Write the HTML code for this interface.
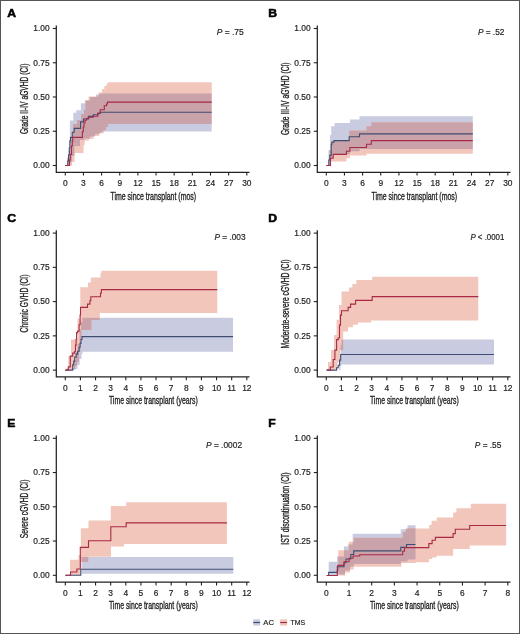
<!DOCTYPE html><html><head><meta charset="utf-8"><style>html,body{margin:0;padding:0;background:#fff;} text{stroke:#222;stroke-width:0.18px;}svg{display:block;will-change:transform;}</style></head><body>
<svg width="520" height="634" viewBox="0 0 520 634" font-family='"Liberation Sans", sans-serif' fill="#222">
<rect x="0" y="0" width="520" height="634" fill="#fff"/>
<g transform="translate(0 0)">
<clipPath id="ca"><path d="M67.3 158 L68.5 158 L68.5 150 L69.2 150 L69.2 140 L69.9 140 L69.9 120.4 L73.3 120.4 L73.3 112.8 L76.2 112.8 L76.2 110.3 L80.9 110.3 L80.9 103.3 L85.3 103.3 L85.3 100.5 L90 100.5 L90 97 L96 97 L96 94.5 L100 94.5 L100 93.6 L211.7 93.6 L211.7 131.5 L102 131.5 L102 132.5 L100 132.5 L100 134 L95 134 L95 136.5 L90 136.5 L90 138.5 L84 138.5 L84 140 L80 140 L80 146 L74.5 146 L74.5 156 L72 156 L72 162 L70 162 L70 165.5 L67.3 165.5Z"/></clipPath>
<path d="M67.3 158 L68.5 158 L68.5 150 L69.2 150 L69.2 140 L69.9 140 L69.9 120.4 L73.3 120.4 L73.3 112.8 L76.2 112.8 L76.2 110.3 L80.9 110.3 L80.9 103.3 L85.3 103.3 L85.3 100.5 L90 100.5 L90 97 L96 97 L96 94.5 L100 94.5 L100 93.6 L211.7 93.6 L211.7 131.5 L102 131.5 L102 132.5 L100 132.5 L100 134 L95 134 L95 136.5 L90 136.5 L90 138.5 L84 138.5 L84 140 L80 140 L80 146 L74.5 146 L74.5 156 L72 156 L72 162 L70 162 L70 165.5 L67.3 165.5Z" fill="#c9cce0"/>
<path d="M67.5 158 L69.5 158 L69.5 150 L70.5 150 L70.5 137 L73 137 L73 124 L77 124 L77 120 L81 120 L81 114 L84 114 L84 110 L85.3 110 L85.3 100.2 L88.5 100.2 L88.5 96.4 L98.5 96.4 L98.5 92.5 L102 92.5 L102 88.9 L104.4 88.9 L104.4 86 L106.5 86 L106.5 83.8 L108 83.8 L108 82.2 L211.7 82.2 L211.7 124 L108 124 L108 127 L106 127 L106 130.3 L103.6 130.3 L103.6 133.2 L99.2 133.2 L99.2 136.1 L93.4 136.1 L93.4 139 L89 139 L89 140.5 L84.7 140.5 L84.7 145 L83.5 145 L83.5 153 L74.5 153 L74.5 162 L72 162 L72 165.5 L67.5 165.5Z" fill="#f2c6bb"/>
<path d="M67.5 158 L69.5 158 L69.5 150 L70.5 150 L70.5 137 L73 137 L73 124 L77 124 L77 120 L81 120 L81 114 L84 114 L84 110 L85.3 110 L85.3 100.2 L88.5 100.2 L88.5 96.4 L98.5 96.4 L98.5 92.5 L102 92.5 L102 88.9 L104.4 88.9 L104.4 86 L106.5 86 L106.5 83.8 L108 83.8 L108 82.2 L211.7 82.2 L211.7 124 L108 124 L108 127 L106 127 L106 130.3 L103.6 130.3 L103.6 133.2 L99.2 133.2 L99.2 136.1 L93.4 136.1 L93.4 139 L89 139 L89 140.5 L84.7 140.5 L84.7 145 L83.5 145 L83.5 153 L74.5 153 L74.5 162 L72 162 L72 165.5 L67.5 165.5Z" fill="#c9a2aa" clip-path="url(#ca)"/>
<path d="M65.3 165.5 L67.8 165.5 L67.8 161 L68.5 161 L68.5 155 L69.3 155 L69.3 148 L69.9 148 L69.9 141 L70.5 141 L70.5 137.4 L72.3 137.4 L72.3 132.2 L74.2 132.2 L74.2 128.4 L80.6 128.4 L80.6 121.9 L83.5 121.9 L83.5 119 L88.7 119 L88.7 116.4 L93.3 116.4 L93.3 114.8 L97.9 114.8 L97.9 113.5 L100.2 113.5 L100.2 112.3 L211.7 112.3" fill="none" stroke="#3f4d72" stroke-width="1.1"/>
<path d="M65.3 165.5 L69.6 165.5 L69.6 160 L70.3 160 L70.3 154.5 L71.5 154.5 L71.5 146 L72.3 146 L72.3 141 L72.8 141 L72.8 137.4 L82.4 137.4 L82.4 131.8 L83.3 131.8 L83.3 127 L84 127 L84 123 L85 123 L85 120.2 L86.5 120.2 L86.5 118.5 L88 118.5 L88 117.3 L93.3 117.3 L93.3 116.2 L97.9 116.2 L97.9 113 L100.2 113 L100.2 109.8 L104.3 109.8 L104.3 105.8 L106.5 105.8 L106.5 104 L107.4 104 L107.4 102.1 L211.7 102.1" fill="none" stroke="#a82a45" stroke-width="1.1"/>
<path d="M56.3 25.6 V172.9 M55.7 172.3 H249.5" fill="none" stroke="#222" stroke-width="1.25"/>
<path d="M52.8 165.5 H56.3" stroke="#222" stroke-width="1.1"/>
<text x="49.6" y="168.25" text-anchor="end" font-size="8.4">0.00</text>
<path d="M52.8 131.25 H56.3" stroke="#222" stroke-width="1.1"/>
<text x="49.6" y="134" text-anchor="end" font-size="8.4">0.25</text>
<path d="M52.8 97 H56.3" stroke="#222" stroke-width="1.1"/>
<text x="49.6" y="99.75" text-anchor="end" font-size="8.4">0.50</text>
<path d="M52.8 62.75 H56.3" stroke="#222" stroke-width="1.1"/>
<text x="49.6" y="65.5" text-anchor="end" font-size="8.4">0.75</text>
<path d="M52.8 28.5 H56.3" stroke="#222" stroke-width="1.1"/>
<text x="49.6" y="31.25" text-anchor="end" font-size="8.4">1.00</text>
<path d="M65.3 172.3 V175.6" stroke="#222" stroke-width="1.1"/>
<text x="65.3" y="186.2" text-anchor="middle" font-size="8.4">0</text>
<path d="M83.45 172.3 V175.6" stroke="#222" stroke-width="1.1"/>
<text x="83.45" y="186.2" text-anchor="middle" font-size="8.4">3</text>
<path d="M101.6 172.3 V175.6" stroke="#222" stroke-width="1.1"/>
<text x="101.6" y="186.2" text-anchor="middle" font-size="8.4">6</text>
<path d="M119.75 172.3 V175.6" stroke="#222" stroke-width="1.1"/>
<text x="119.75" y="186.2" text-anchor="middle" font-size="8.4">9</text>
<path d="M137.9 172.3 V175.6" stroke="#222" stroke-width="1.1"/>
<text x="137.9" y="186.2" text-anchor="middle" font-size="8.4">12</text>
<path d="M156.05 172.3 V175.6" stroke="#222" stroke-width="1.1"/>
<text x="156.05" y="186.2" text-anchor="middle" font-size="8.4">15</text>
<path d="M174.2 172.3 V175.6" stroke="#222" stroke-width="1.1"/>
<text x="174.2" y="186.2" text-anchor="middle" font-size="8.4">18</text>
<path d="M192.35 172.3 V175.6" stroke="#222" stroke-width="1.1"/>
<text x="192.35" y="186.2" text-anchor="middle" font-size="8.4">21</text>
<path d="M210.5 172.3 V175.6" stroke="#222" stroke-width="1.1"/>
<text x="210.5" y="186.2" text-anchor="middle" font-size="8.4">24</text>
<path d="M228.65 172.3 V175.6" stroke="#222" stroke-width="1.1"/>
<text x="228.65" y="186.2" text-anchor="middle" font-size="8.4">27</text>
<path d="M246.8 172.3 V175.6" stroke="#222" stroke-width="1.1"/>
<text x="246.8" y="186.2" text-anchor="middle" font-size="8.4">30</text>
<text x="153.3" y="199.6" text-anchor="middle" font-size="10" style="stroke-width:0.32px" textLength="85.7" lengthAdjust="spacingAndGlyphs">Time since transplant (mos)</text>
<text transform="translate(28.4 98.85) rotate(-90)" text-anchor="middle" font-size="10" style="stroke-width:0.32px" textLength="70.5" lengthAdjust="spacingAndGlyphs">Grade II-IV aGVHD (CI)</text>
<text x="216.7" y="35.3" font-size="8.5" textLength="27.1" lengthAdjust="spacingAndGlyphs"><tspan font-style="italic">P</tspan> = .75</text>
<text transform="translate(7.2 16.9) scale(1.06 1)" font-size="11.5" font-weight="bold" style="stroke-width:0.55px;stroke:#000;fill:#000">A</text>
</g>
<g transform="translate(261 0)">
<clipPath id="cb"><path d="M67.5 150 L69 150 L69 135 L70.2 135 L70.2 126.3 L73.6 126.3 L73.6 122.9 L88.9 122.9 L88.9 119.4 L98.5 119.4 L98.5 116.2 L211.8 116.2 L211.8 148.9 L98.5 148.9 L98.5 151.2 L88.9 151.2 L88.9 154 L72 154 L72 158 L70 158 L70 165.5 L67.5 165.5Z"/></clipPath>
<path d="M67.5 150 L69 150 L69 135 L70.2 135 L70.2 126.3 L73.6 126.3 L73.6 122.9 L88.9 122.9 L88.9 119.4 L98.5 119.4 L98.5 116.2 L211.8 116.2 L211.8 148.9 L98.5 148.9 L98.5 151.2 L88.9 151.2 L88.9 154 L72 154 L72 158 L70 158 L70 165.5 L67.5 165.5Z" fill="#c9cce0"/>
<path d="M68.5 150 L70 150 L70 141 L88.2 141 L88.2 130.5 L105.5 130.5 L105.5 126.3 L110.3 126.3 L110.3 122.3 L211.8 122.3 L211.8 153.8 L105.5 153.8 L105.5 155.4 L88.9 155.4 L88.9 158.2 L85.4 158.2 L85.4 161.6 L70 161.6 L70 165.5 L68.5 165.5Z" fill="#f2c6bb"/>
<path d="M68.5 150 L70 150 L70 141 L88.2 141 L88.2 130.5 L105.5 130.5 L105.5 126.3 L110.3 126.3 L110.3 122.3 L211.8 122.3 L211.8 153.8 L105.5 153.8 L105.5 155.4 L88.9 155.4 L88.9 158.2 L85.4 158.2 L85.4 161.6 L70 161.6 L70 165.5 L68.5 165.5Z" fill="#c9a2aa" clip-path="url(#cb)"/>
<path d="M65.3 165.5 L67.8 165.5 L67.8 160 L68.8 160 L68.8 155.4 L70.2 155.4 L70.2 144.3 L70.9 144.3 L70.9 142.2 L72.9 142.2 L72.9 140.6 L88.2 140.6 L88.2 136.7 L98.5 136.7 L98.5 133.9 L211.8 133.9" fill="none" stroke="#3f4d72" stroke-width="1.1"/>
<path d="M65.3 165.5 L69.5 165.5 L69.5 158.2 L72.2 158.2 L72.2 154.4 L85.4 154.4 L85.4 151.2 L88.9 151.2 L88.9 147.5 L105.5 147.5 L105.5 144.3 L110.3 144.3 L110.3 140.6 L211.8 140.6" fill="none" stroke="#a82a45" stroke-width="1.1"/>
<path d="M56.3 25.6 V172.9 M55.7 172.3 H249.5" fill="none" stroke="#222" stroke-width="1.25"/>
<path d="M52.8 165.5 H56.3" stroke="#222" stroke-width="1.1"/>
<text x="49.6" y="168.25" text-anchor="end" font-size="8.4">0.00</text>
<path d="M52.8 131.25 H56.3" stroke="#222" stroke-width="1.1"/>
<text x="49.6" y="134" text-anchor="end" font-size="8.4">0.25</text>
<path d="M52.8 97 H56.3" stroke="#222" stroke-width="1.1"/>
<text x="49.6" y="99.75" text-anchor="end" font-size="8.4">0.50</text>
<path d="M52.8 62.75 H56.3" stroke="#222" stroke-width="1.1"/>
<text x="49.6" y="65.5" text-anchor="end" font-size="8.4">0.75</text>
<path d="M52.8 28.5 H56.3" stroke="#222" stroke-width="1.1"/>
<text x="49.6" y="31.25" text-anchor="end" font-size="8.4">1.00</text>
<path d="M65.3 172.3 V175.6" stroke="#222" stroke-width="1.1"/>
<text x="65.3" y="186.2" text-anchor="middle" font-size="8.4">0</text>
<path d="M83.45 172.3 V175.6" stroke="#222" stroke-width="1.1"/>
<text x="83.45" y="186.2" text-anchor="middle" font-size="8.4">3</text>
<path d="M101.6 172.3 V175.6" stroke="#222" stroke-width="1.1"/>
<text x="101.6" y="186.2" text-anchor="middle" font-size="8.4">6</text>
<path d="M119.75 172.3 V175.6" stroke="#222" stroke-width="1.1"/>
<text x="119.75" y="186.2" text-anchor="middle" font-size="8.4">9</text>
<path d="M137.9 172.3 V175.6" stroke="#222" stroke-width="1.1"/>
<text x="137.9" y="186.2" text-anchor="middle" font-size="8.4">12</text>
<path d="M156.05 172.3 V175.6" stroke="#222" stroke-width="1.1"/>
<text x="156.05" y="186.2" text-anchor="middle" font-size="8.4">15</text>
<path d="M174.2 172.3 V175.6" stroke="#222" stroke-width="1.1"/>
<text x="174.2" y="186.2" text-anchor="middle" font-size="8.4">18</text>
<path d="M192.35 172.3 V175.6" stroke="#222" stroke-width="1.1"/>
<text x="192.35" y="186.2" text-anchor="middle" font-size="8.4">21</text>
<path d="M210.5 172.3 V175.6" stroke="#222" stroke-width="1.1"/>
<text x="210.5" y="186.2" text-anchor="middle" font-size="8.4">24</text>
<path d="M228.65 172.3 V175.6" stroke="#222" stroke-width="1.1"/>
<text x="228.65" y="186.2" text-anchor="middle" font-size="8.4">27</text>
<path d="M246.8 172.3 V175.6" stroke="#222" stroke-width="1.1"/>
<text x="246.8" y="186.2" text-anchor="middle" font-size="8.4">30</text>
<text x="153.3" y="199.6" text-anchor="middle" font-size="10" style="stroke-width:0.32px" textLength="85.7" lengthAdjust="spacingAndGlyphs">Time since transplant (mos)</text>
<text transform="translate(28.4 98.75) rotate(-90)" text-anchor="middle" font-size="10" style="stroke-width:0.32px" textLength="72.7" lengthAdjust="spacingAndGlyphs">Grade III-IV aGVHD (CI)</text>
<text x="216.9" y="35.3" font-size="8.5" textLength="26.5" lengthAdjust="spacingAndGlyphs"><tspan font-style="italic">P</tspan> = .52</text>
<text transform="translate(7.2 16.9) scale(1.06 1)" font-size="11.5" font-weight="bold" style="stroke-width:0.55px;stroke:#000;fill:#000">B</text>
</g>
<g transform="translate(0 204.6)">
<clipPath id="cc"><path d="M72 163.5 L74 163.5 L74 155.5 L76 155.5 L76 147.5 L77.6 147.5 L77.6 139.5 L79.6 139.5 L79.6 125.1 L81 125.1 L81 117.5 L82.5 117.5 L82.5 113.2 L233 113.2 L233 147.1 L82.5 147.1 L82.5 149.5 L81.5 149.5 L81.5 154.5 L79.6 154.5 L79.6 160.5 L77.5 160.5 L77.5 164.5 L75.7 164.5 L75.7 165.5 L72 165.5Z"/></clipPath>
<path d="M72 163.5 L74 163.5 L74 155.5 L76 155.5 L76 147.5 L77.6 147.5 L77.6 139.5 L79.6 139.5 L79.6 125.1 L81 125.1 L81 117.5 L82.5 117.5 L82.5 113.2 L233 113.2 L233 147.1 L82.5 147.1 L82.5 149.5 L81.5 149.5 L81.5 154.5 L79.6 154.5 L79.6 160.5 L77.5 160.5 L77.5 164.5 L75.7 164.5 L75.7 165.5 L72 165.5Z" fill="#c9cce0"/>
<path d="M66.5 163.5 L68.3 163.5 L68.3 151.5 L71 151.5 L71 135 L77.5 135 L77.5 114.2 L80.3 114.2 L80.3 82.6 L88 82.6 L88 77.8 L90.8 77.8 L90.8 73 L100.5 73 L100.5 68.5 L101.4 68.5 L101.4 66.1 L217.3 66.1 L217.3 108.4 L99.8 108.4 L99.8 115.5 L91.5 115.5 L91.5 125.5 L81.5 125.5 L81.5 135.5 L80.5 135.5 L80.5 147.5 L79 147.5 L79 157.5 L77 157.5 L77 161.5 L75 161.5 L75 164.5 L72 164.5 L72 165.5 L67 165.5Z" fill="#f2c6bb"/>
<path d="M66.5 163.5 L68.3 163.5 L68.3 151.5 L71 151.5 L71 135 L77.5 135 L77.5 114.2 L80.3 114.2 L80.3 82.6 L88 82.6 L88 77.8 L90.8 77.8 L90.8 73 L100.5 73 L100.5 68.5 L101.4 68.5 L101.4 66.1 L217.3 66.1 L217.3 108.4 L99.8 108.4 L99.8 115.5 L91.5 115.5 L91.5 125.5 L81.5 125.5 L81.5 135.5 L80.5 135.5 L80.5 147.5 L79 147.5 L79 157.5 L77 157.5 L77 161.5 L75 161.5 L75 164.5 L72 164.5 L72 165.5 L67 165.5Z" fill="#c9a2aa" clip-path="url(#cc)"/>
<path d="M65.3 165.5 L72.7 165.5 L72.7 160.3 L73.7 160.3 L73.7 156.5 L74.7 156.5 L74.7 152.5 L76.1 152.5 L76.1 149.5 L77.6 149.5 L77.6 146.6 L79.1 146.6 L79.1 142.7 L80.1 142.7 L80.1 138.8 L81 138.8 L81 134.9 L82 134.9 L82 132 L233 132" fill="none" stroke="#3f4d72" stroke-width="1.1"/>
<path d="M65.3 165.5 L68.3 165.5 L68.3 162.3 L70.3 162.3 L70.3 151.5 L72.7 151.5 L72.7 148.5 L74.7 148.5 L74.7 146.6 L75.5 146.6 L75.5 140.5 L76.1 140.5 L76.1 134.9 L76.6 134.9 L76.6 128 L77.6 128 L77.6 126.5 L79.1 126.5 L79.1 120.2 L80.1 120.2 L80.1 110.4 L80.5 110.4 L80.5 102.8 L87.5 102.8 L87.5 99.5 L89.9 99.5 L89.9 96.1 L90.8 96.1 L90.8 92.2 L100.5 92.2 L100.5 88.4 L101.4 88.4 L101.4 85 L217.3 85" fill="none" stroke="#a82a45" stroke-width="1.1"/>
<path d="M56.3 25.6 V172.9 M55.7 172.3 H249.5" fill="none" stroke="#222" stroke-width="1.25"/>
<path d="M52.8 165.5 H56.3" stroke="#222" stroke-width="1.1"/>
<text x="49.6" y="168.25" text-anchor="end" font-size="8.4">0.00</text>
<path d="M52.8 131.25 H56.3" stroke="#222" stroke-width="1.1"/>
<text x="49.6" y="134" text-anchor="end" font-size="8.4">0.25</text>
<path d="M52.8 97 H56.3" stroke="#222" stroke-width="1.1"/>
<text x="49.6" y="99.75" text-anchor="end" font-size="8.4">0.50</text>
<path d="M52.8 62.75 H56.3" stroke="#222" stroke-width="1.1"/>
<text x="49.6" y="65.5" text-anchor="end" font-size="8.4">0.75</text>
<path d="M52.8 28.5 H56.3" stroke="#222" stroke-width="1.1"/>
<text x="49.6" y="31.25" text-anchor="end" font-size="8.4">1.00</text>
<path d="M65.3 172.3 V175.6" stroke="#222" stroke-width="1.1"/>
<text x="65.3" y="186.2" text-anchor="middle" font-size="8.4">0</text>
<path d="M80.42 172.3 V175.6" stroke="#222" stroke-width="1.1"/>
<text x="80.42" y="186.2" text-anchor="middle" font-size="8.4">1</text>
<path d="M95.55 172.3 V175.6" stroke="#222" stroke-width="1.1"/>
<text x="95.55" y="186.2" text-anchor="middle" font-size="8.4">2</text>
<path d="M110.67 172.3 V175.6" stroke="#222" stroke-width="1.1"/>
<text x="110.67" y="186.2" text-anchor="middle" font-size="8.4">3</text>
<path d="M125.8 172.3 V175.6" stroke="#222" stroke-width="1.1"/>
<text x="125.8" y="186.2" text-anchor="middle" font-size="8.4">4</text>
<path d="M140.93 172.3 V175.6" stroke="#222" stroke-width="1.1"/>
<text x="140.93" y="186.2" text-anchor="middle" font-size="8.4">5</text>
<path d="M156.05 172.3 V175.6" stroke="#222" stroke-width="1.1"/>
<text x="156.05" y="186.2" text-anchor="middle" font-size="8.4">6</text>
<path d="M171.18 172.3 V175.6" stroke="#222" stroke-width="1.1"/>
<text x="171.18" y="186.2" text-anchor="middle" font-size="8.4">7</text>
<path d="M186.3 172.3 V175.6" stroke="#222" stroke-width="1.1"/>
<text x="186.3" y="186.2" text-anchor="middle" font-size="8.4">8</text>
<path d="M201.43 172.3 V175.6" stroke="#222" stroke-width="1.1"/>
<text x="201.43" y="186.2" text-anchor="middle" font-size="8.4">9</text>
<path d="M216.55 172.3 V175.6" stroke="#222" stroke-width="1.1"/>
<text x="216.55" y="186.2" text-anchor="middle" font-size="8.4">10</text>
<path d="M231.68 172.3 V175.6" stroke="#222" stroke-width="1.1"/>
<text x="231.68" y="186.2" text-anchor="middle" font-size="8.4">11</text>
<path d="M246.8 172.3 V175.6" stroke="#222" stroke-width="1.1"/>
<text x="246.8" y="186.2" text-anchor="middle" font-size="8.4">12</text>
<text x="153.3" y="199.6" text-anchor="middle" font-size="10" style="stroke-width:0.32px" textLength="88.8" lengthAdjust="spacingAndGlyphs">Time since transplant (years)</text>
<text transform="translate(28.4 98.9) rotate(-90)" text-anchor="middle" font-size="10" style="stroke-width:0.32px" textLength="57.8" lengthAdjust="spacingAndGlyphs">Chronic GVHD (CI)</text>
<text x="214.4" y="35.4" font-size="8.5" textLength="31.2" lengthAdjust="spacingAndGlyphs"><tspan font-style="italic">P</tspan> = .003</text>
<text transform="translate(7.2 16.9) scale(1.06 1)" font-size="11.5" font-weight="bold" style="stroke-width:0.55px;stroke:#000;fill:#000">C</text>
</g>
<g transform="translate(261 204.6)">
<clipPath id="cd"><path d="M78 155.5 L79.5 155.5 L79.5 140.5 L80.5 140.5 L80.5 135 L233 135 L233 159.9 L80.5 159.9 L80.5 161.5 L79.5 161.5 L79.5 165.5 L78 165.5Z"/></clipPath>
<path d="M78 155.5 L79.5 155.5 L79.5 140.5 L80.5 140.5 L80.5 135 L233 135 L233 159.9 L80.5 159.9 L80.5 161.5 L79.5 161.5 L79.5 165.5 L78 165.5Z" fill="#c9cce0"/>
<path d="M67 157.5 L70 157.5 L70 145.5 L73 145.5 L73 130.5 L75.6 130.5 L75.6 115.2 L78 115.2 L78 100.5 L80.5 100.5 L80.5 87 L88 87 L88 82.9 L91.3 82.9 L91.3 79.5 L95.4 79.5 L95.4 75.5 L111.2 75.5 L111.2 72.1 L217.3 72.1 L217.3 116 L110.3 116 L110.3 118 L97 118 L97 120.1 L92 120.1 L92 122.6 L87 122.6 L87 126.8 L82.2 126.8 L82.2 145.5 L79 145.5 L79 157.5 L76.5 157.5 L76.5 164.5 L73 164.5 L73 165.5 L67 165.5Z" fill="#f2c6bb"/>
<path d="M67 157.5 L70 157.5 L70 145.5 L73 145.5 L73 130.5 L75.6 130.5 L75.6 115.2 L78 115.2 L78 100.5 L80.5 100.5 L80.5 87 L88 87 L88 82.9 L91.3 82.9 L91.3 79.5 L95.4 79.5 L95.4 75.5 L111.2 75.5 L111.2 72.1 L217.3 72.1 L217.3 116 L110.3 116 L110.3 118 L97 118 L97 120.1 L92 120.1 L92 122.6 L87 122.6 L87 126.8 L82.2 126.8 L82.2 145.5 L79 145.5 L79 157.5 L76.5 157.5 L76.5 164.5 L73 164.5 L73 165.5 L67 165.5Z" fill="#c9a2aa" clip-path="url(#cd)"/>
<path d="M65.6 165.5 L75.6 165.5 L75.6 163.2 L77.2 163.2 L77.2 160.7 L78.6 160.7 L78.6 155.5 L79.7 155.5 L79.7 149.9 L233 149.9" fill="none" stroke="#3f4d72" stroke-width="1.1"/>
<path d="M65.6 165.5 L69.3 165.5 L69.3 162.4 L72.2 162.4 L72.2 154.9 L73.9 154.9 L73.9 145.5 L75.6 145.5 L75.6 135 L77.2 135 L77.2 133.4 L78.5 133.4 L78.5 120.5 L79.5 120.5 L79.5 110.5 L80.5 110.5 L80.5 106.1 L87.1 106.1 L87.1 102.8 L89.6 102.8 L89.6 99.5 L94.6 99.5 L94.6 95.8 L111.2 95.8 L111.2 92 L217.3 92" fill="none" stroke="#a82a45" stroke-width="1.1"/>
<path d="M56.3 25.6 V172.9 M55.7 172.3 H249.5" fill="none" stroke="#222" stroke-width="1.25"/>
<path d="M52.8 165.5 H56.3" stroke="#222" stroke-width="1.1"/>
<text x="49.6" y="168.25" text-anchor="end" font-size="8.4">0.00</text>
<path d="M52.8 131.25 H56.3" stroke="#222" stroke-width="1.1"/>
<text x="49.6" y="134" text-anchor="end" font-size="8.4">0.25</text>
<path d="M52.8 97 H56.3" stroke="#222" stroke-width="1.1"/>
<text x="49.6" y="99.75" text-anchor="end" font-size="8.4">0.50</text>
<path d="M52.8 62.75 H56.3" stroke="#222" stroke-width="1.1"/>
<text x="49.6" y="65.5" text-anchor="end" font-size="8.4">0.75</text>
<path d="M52.8 28.5 H56.3" stroke="#222" stroke-width="1.1"/>
<text x="49.6" y="31.25" text-anchor="end" font-size="8.4">1.00</text>
<path d="M65.3 172.3 V175.6" stroke="#222" stroke-width="1.1"/>
<text x="65.3" y="186.2" text-anchor="middle" font-size="8.4">0</text>
<path d="M80.42 172.3 V175.6" stroke="#222" stroke-width="1.1"/>
<text x="80.42" y="186.2" text-anchor="middle" font-size="8.4">1</text>
<path d="M95.55 172.3 V175.6" stroke="#222" stroke-width="1.1"/>
<text x="95.55" y="186.2" text-anchor="middle" font-size="8.4">2</text>
<path d="M110.67 172.3 V175.6" stroke="#222" stroke-width="1.1"/>
<text x="110.67" y="186.2" text-anchor="middle" font-size="8.4">3</text>
<path d="M125.8 172.3 V175.6" stroke="#222" stroke-width="1.1"/>
<text x="125.8" y="186.2" text-anchor="middle" font-size="8.4">4</text>
<path d="M140.93 172.3 V175.6" stroke="#222" stroke-width="1.1"/>
<text x="140.93" y="186.2" text-anchor="middle" font-size="8.4">5</text>
<path d="M156.05 172.3 V175.6" stroke="#222" stroke-width="1.1"/>
<text x="156.05" y="186.2" text-anchor="middle" font-size="8.4">6</text>
<path d="M171.18 172.3 V175.6" stroke="#222" stroke-width="1.1"/>
<text x="171.18" y="186.2" text-anchor="middle" font-size="8.4">7</text>
<path d="M186.3 172.3 V175.6" stroke="#222" stroke-width="1.1"/>
<text x="186.3" y="186.2" text-anchor="middle" font-size="8.4">8</text>
<path d="M201.43 172.3 V175.6" stroke="#222" stroke-width="1.1"/>
<text x="201.43" y="186.2" text-anchor="middle" font-size="8.4">9</text>
<path d="M216.55 172.3 V175.6" stroke="#222" stroke-width="1.1"/>
<text x="216.55" y="186.2" text-anchor="middle" font-size="8.4">10</text>
<path d="M231.68 172.3 V175.6" stroke="#222" stroke-width="1.1"/>
<text x="231.68" y="186.2" text-anchor="middle" font-size="8.4">11</text>
<path d="M246.8 172.3 V175.6" stroke="#222" stroke-width="1.1"/>
<text x="246.8" y="186.2" text-anchor="middle" font-size="8.4">12</text>
<text x="153.3" y="199.6" text-anchor="middle" font-size="10" style="stroke-width:0.32px" textLength="88.8" lengthAdjust="spacingAndGlyphs">Time since transplant (years)</text>
<text transform="translate(28.4 99.3) rotate(-90)" text-anchor="middle" font-size="10" style="stroke-width:0.32px" textLength="89" lengthAdjust="spacingAndGlyphs">Moderate-severe cGVHD (CI)</text>
<text x="209.4" y="35.4" font-size="8.5" textLength="34" lengthAdjust="spacingAndGlyphs"><tspan font-style="italic">P</tspan> &lt; .0001</text>
<text transform="translate(7.2 16.9) scale(1.06 1)" font-size="11.5" font-weight="bold" style="stroke-width:0.55px;stroke:#000;fill:#000">D</text>
</g>
<g transform="translate(0 409.8)">
<clipPath id="ce"><path d="M81.5 147.1 L233.3 147.1 L233.3 163.9 L81.5 163.9Z"/></clipPath>
<path d="M81.5 147.1 L233.3 147.1 L233.3 163.9 L81.5 163.9Z" fill="#c9cce0"/>
<path d="M68 165.5 L70 165.5 L70 149.9 L78.5 149.9 L78.5 145.3 L80.8 145.3 L80.8 118.4 L88.5 118.4 L88.5 110.7 L110.8 110.7 L110.8 96.1 L126.2 96.1 L126.2 92.4 L226.9 92.4 L226.9 134.1 L124 134.1 L124 136.7 L111 136.7 L111 146.9 L88.3 146.9 L88.3 152.2 L80.6 152.2 L80.6 165.5 L68 165.5Z" fill="#f2c6bb"/>
<path d="M68 165.5 L70 165.5 L70 149.9 L78.5 149.9 L78.5 145.3 L80.8 145.3 L80.8 118.4 L88.5 118.4 L88.5 110.7 L110.8 110.7 L110.8 96.1 L126.2 96.1 L126.2 92.4 L226.9 92.4 L226.9 134.1 L124 134.1 L124 136.7 L111 136.7 L111 146.9 L88.3 146.9 L88.3 152.2 L80.6 152.2 L80.6 165.5 L68 165.5Z" fill="#c9a2aa" clip-path="url(#ce)"/>
<path d="M65.4 165.5 L80.8 165.5 L80.8 159.5 L233.3 159.5" fill="none" stroke="#3f4d72" stroke-width="1.1"/>
<path d="M65.4 165.5 L70.5 165.5 L70.5 162.2 L76.9 162.2 L76.9 159.2 L80.3 159.2 L80.3 137.6 L88.5 137.6 L88.5 131 L110.8 131 L110.8 116.9 L126.2 116.9 L126.2 113.1 L226.9 113.1" fill="none" stroke="#a82a45" stroke-width="1.1"/>
<path d="M56.3 25.6 V172.9 M55.7 172.3 H249.5" fill="none" stroke="#222" stroke-width="1.25"/>
<path d="M52.8 165.5 H56.3" stroke="#222" stroke-width="1.1"/>
<text x="49.6" y="168.25" text-anchor="end" font-size="8.4">0.00</text>
<path d="M52.8 131.25 H56.3" stroke="#222" stroke-width="1.1"/>
<text x="49.6" y="134" text-anchor="end" font-size="8.4">0.25</text>
<path d="M52.8 97 H56.3" stroke="#222" stroke-width="1.1"/>
<text x="49.6" y="99.75" text-anchor="end" font-size="8.4">0.50</text>
<path d="M52.8 62.75 H56.3" stroke="#222" stroke-width="1.1"/>
<text x="49.6" y="65.5" text-anchor="end" font-size="8.4">0.75</text>
<path d="M52.8 28.5 H56.3" stroke="#222" stroke-width="1.1"/>
<text x="49.6" y="31.25" text-anchor="end" font-size="8.4">1.00</text>
<path d="M65.3 172.3 V175.6" stroke="#222" stroke-width="1.1"/>
<text x="65.3" y="186.2" text-anchor="middle" font-size="8.4">0</text>
<path d="M80.42 172.3 V175.6" stroke="#222" stroke-width="1.1"/>
<text x="80.42" y="186.2" text-anchor="middle" font-size="8.4">1</text>
<path d="M95.55 172.3 V175.6" stroke="#222" stroke-width="1.1"/>
<text x="95.55" y="186.2" text-anchor="middle" font-size="8.4">2</text>
<path d="M110.67 172.3 V175.6" stroke="#222" stroke-width="1.1"/>
<text x="110.67" y="186.2" text-anchor="middle" font-size="8.4">3</text>
<path d="M125.8 172.3 V175.6" stroke="#222" stroke-width="1.1"/>
<text x="125.8" y="186.2" text-anchor="middle" font-size="8.4">4</text>
<path d="M140.93 172.3 V175.6" stroke="#222" stroke-width="1.1"/>
<text x="140.93" y="186.2" text-anchor="middle" font-size="8.4">5</text>
<path d="M156.05 172.3 V175.6" stroke="#222" stroke-width="1.1"/>
<text x="156.05" y="186.2" text-anchor="middle" font-size="8.4">6</text>
<path d="M171.18 172.3 V175.6" stroke="#222" stroke-width="1.1"/>
<text x="171.18" y="186.2" text-anchor="middle" font-size="8.4">7</text>
<path d="M186.3 172.3 V175.6" stroke="#222" stroke-width="1.1"/>
<text x="186.3" y="186.2" text-anchor="middle" font-size="8.4">8</text>
<path d="M201.43 172.3 V175.6" stroke="#222" stroke-width="1.1"/>
<text x="201.43" y="186.2" text-anchor="middle" font-size="8.4">9</text>
<path d="M216.55 172.3 V175.6" stroke="#222" stroke-width="1.1"/>
<text x="216.55" y="186.2" text-anchor="middle" font-size="8.4">10</text>
<path d="M231.68 172.3 V175.6" stroke="#222" stroke-width="1.1"/>
<text x="231.68" y="186.2" text-anchor="middle" font-size="8.4">11</text>
<path d="M246.8 172.3 V175.6" stroke="#222" stroke-width="1.1"/>
<text x="246.8" y="186.2" text-anchor="middle" font-size="8.4">12</text>
<text x="153.3" y="199.6" text-anchor="middle" font-size="10" style="stroke-width:0.32px" textLength="88.8" lengthAdjust="spacingAndGlyphs">Time since transplant (years)</text>
<text transform="translate(28.4 99.1) rotate(-90)" text-anchor="middle" font-size="10" style="stroke-width:0.32px" textLength="58.6" lengthAdjust="spacingAndGlyphs">Severe cGVHD (CI)</text>
<text x="206" y="37.9" font-size="8.5" textLength="36.1" lengthAdjust="spacingAndGlyphs"><tspan font-style="italic">P</tspan> = .0002</text>
<text transform="translate(7.2 16.9) scale(1.06 1)" font-size="11.5" font-weight="bold" style="stroke-width:0.55px;stroke:#000;fill:#000">E</text>
</g>
<g transform="translate(261 409.8)">
<clipPath id="cf"><path d="M67.7 152 L76 152 L76 146.7 L83 146.7 L83 136.7 L86.9 136.7 L86.9 134.7 L91.7 134.7 L91.7 124 L139.8 124 L139.8 119.4 L146.5 119.4 L146.5 115.5 L154.5 115.5 L154.5 149.7 L146.5 149.7 L146.5 151.7 L139.8 151.7 L139.8 154.2 L92.7 154.2 L92.7 156.7 L89 156.7 L89 160.7 L84 160.7 L84 164.7 L77 164.7 L77 165.7 L67.7 165.7Z"/></clipPath>
<path d="M67.7 152 L76 152 L76 146.7 L83 146.7 L83 136.7 L86.9 136.7 L86.9 134.7 L91.7 134.7 L91.7 124 L139.8 124 L139.8 119.4 L146.5 119.4 L146.5 115.5 L154.5 115.5 L154.5 149.7 L146.5 149.7 L146.5 151.7 L139.8 151.7 L139.8 154.2 L92.7 154.2 L92.7 156.7 L89 156.7 L89 160.7 L84 160.7 L84 164.7 L77 164.7 L77 165.7 L67.7 165.7Z" fill="#c9cce0"/>
<path d="M75 165.7 L77.3 165.7 L77.3 140.5 L87.8 140.5 L87.8 131.9 L92.7 131.9 L92.7 128 L141.7 128 L141.7 122.2 L144.6 122.2 L144.6 118.4 L154.5 118.4 L154.5 118.7 L168.1 118.7 L168.1 115.3 L170.6 115.3 L170.6 110.9 L175.7 110.9 L175.7 107.7 L192.1 107.7 L192.1 102.8 L195.4 102.8 L195.4 98.4 L209.8 98.4 L209.8 94 L245.2 94 L245.2 135.6 L208.7 135.6 L208.7 139.3 L192.1 139.3 L192.1 146 L175.6 146 L175.6 147.7 L171.1 147.7 L171.1 149.2 L168 149.2 L168 152.5 L154.5 152.5 L154.5 153.1 L140.3 153.1 L140.3 156.9 L92.7 156.9 L92.7 159.7 L89 159.7 L89 162.7 L84 162.7 L84 165.7 L75 165.7Z" fill="#f2c6bb"/>
<path d="M75 165.7 L77.3 165.7 L77.3 140.5 L87.8 140.5 L87.8 131.9 L92.7 131.9 L92.7 128 L141.7 128 L141.7 122.2 L144.6 122.2 L144.6 118.4 L154.5 118.4 L154.5 118.7 L168.1 118.7 L168.1 115.3 L170.6 115.3 L170.6 110.9 L175.7 110.9 L175.7 107.7 L192.1 107.7 L192.1 102.8 L195.4 102.8 L195.4 98.4 L209.8 98.4 L209.8 94 L245.2 94 L245.2 135.6 L208.7 135.6 L208.7 139.3 L192.1 139.3 L192.1 146 L175.6 146 L175.6 147.7 L171.1 147.7 L171.1 149.2 L168 149.2 L168 152.5 L154.5 152.5 L154.5 153.1 L140.3 153.1 L140.3 156.9 L92.7 156.9 L92.7 159.7 L89 159.7 L89 162.7 L84 162.7 L84 165.7 L75 165.7Z" fill="#c9a2aa" clip-path="url(#cf)"/>
<path d="M65.7 165.7 L67.7 165.7 L67.7 162.6 L76.3 162.6 L76.3 156.9 L83 156.9 L83 153 L85 153 L85 149.2 L89.8 149.2 L89.8 144.7 L92.7 144.7 L92.7 141.1 L139.8 141.1 L139.8 137.6 L145.5 137.6 L145.5 134.7 L154.5 134.7" fill="none" stroke="#3f4d72" stroke-width="1.1"/>
<path d="M65.7 165.7 L76.3 165.7 L76.3 160.7 L76.8 160.7 L76.8 155.6 L83 155.6 L83 152 L88 152 L88 148.5 L92 148.5 L92 146.2 L98.7 146.2 L98.7 144.9 L141.7 144.9 L141.7 141.5 L143.5 141.5 L143.5 137.8 L167.8 137.8 L167.8 133.8 L171.1 133.8 L171.1 130.5 L174.4 130.5 L174.4 127.6 L192.1 127.6 L192.1 123.8 L194.3 123.8 L194.3 119.4 L208.7 119.4 L208.7 115.7 L245.2 115.7" fill="none" stroke="#a82a45" stroke-width="1.1"/>
<path d="M56.3 25.6 V172.9 M55.7 172.3 H249.5" fill="none" stroke="#222" stroke-width="1.25"/>
<path d="M52.8 165.5 H56.3" stroke="#222" stroke-width="1.1"/>
<text x="49.6" y="168.25" text-anchor="end" font-size="8.4">0.00</text>
<path d="M52.8 131.25 H56.3" stroke="#222" stroke-width="1.1"/>
<text x="49.6" y="134" text-anchor="end" font-size="8.4">0.25</text>
<path d="M52.8 97 H56.3" stroke="#222" stroke-width="1.1"/>
<text x="49.6" y="99.75" text-anchor="end" font-size="8.4">0.50</text>
<path d="M52.8 62.75 H56.3" stroke="#222" stroke-width="1.1"/>
<text x="49.6" y="65.5" text-anchor="end" font-size="8.4">0.75</text>
<path d="M52.8 28.5 H56.3" stroke="#222" stroke-width="1.1"/>
<text x="49.6" y="31.25" text-anchor="end" font-size="8.4">1.00</text>
<path d="M65.3 172.3 V175.6" stroke="#222" stroke-width="1.1"/>
<text x="65.3" y="186.2" text-anchor="middle" font-size="8.4">0</text>
<path d="M87.99 172.3 V175.6" stroke="#222" stroke-width="1.1"/>
<text x="87.99" y="186.2" text-anchor="middle" font-size="8.4">1</text>
<path d="M110.67 172.3 V175.6" stroke="#222" stroke-width="1.1"/>
<text x="110.67" y="186.2" text-anchor="middle" font-size="8.4">2</text>
<path d="M133.36 172.3 V175.6" stroke="#222" stroke-width="1.1"/>
<text x="133.36" y="186.2" text-anchor="middle" font-size="8.4">3</text>
<path d="M156.05 172.3 V175.6" stroke="#222" stroke-width="1.1"/>
<text x="156.05" y="186.2" text-anchor="middle" font-size="8.4">4</text>
<path d="M178.74 172.3 V175.6" stroke="#222" stroke-width="1.1"/>
<text x="178.74" y="186.2" text-anchor="middle" font-size="8.4">5</text>
<path d="M201.43 172.3 V175.6" stroke="#222" stroke-width="1.1"/>
<text x="201.43" y="186.2" text-anchor="middle" font-size="8.4">6</text>
<path d="M224.11 172.3 V175.6" stroke="#222" stroke-width="1.1"/>
<text x="224.11" y="186.2" text-anchor="middle" font-size="8.4">7</text>
<path d="M246.8 172.3 V175.6" stroke="#222" stroke-width="1.1"/>
<text x="246.8" y="186.2" text-anchor="middle" font-size="8.4">8</text>
<text x="153.3" y="199.6" text-anchor="middle" font-size="10" style="stroke-width:0.32px" textLength="88.8" lengthAdjust="spacingAndGlyphs">Time since transplant (years)</text>
<text transform="translate(28.4 98.8) rotate(-90)" text-anchor="middle" font-size="10" style="stroke-width:0.32px" textLength="72.4" lengthAdjust="spacingAndGlyphs">IST discontinuation (CI)</text>
<text x="213.8" y="38.2" font-size="8.5" textLength="26.5" lengthAdjust="spacingAndGlyphs"><tspan font-style="italic">P</tspan> = .55</text>
<text transform="translate(7.2 16.9) scale(1.06 1)" font-size="11.5" font-weight="bold" style="stroke-width:0.55px;stroke:#000;fill:#000">F</text>
</g>
<g>
<rect x="253.3" y="619.3" width="6.8" height="6.3" fill="#c9cce0"/>
<path d="M253.3 622.5 H260.1" stroke="#3f4d72" stroke-width="1.2"/>
<text x="263.3" y="624.9" font-size="7.7" textLength="10.6" lengthAdjust="spacingAndGlyphs">AC</text>
<rect x="280.2" y="619.3" width="6.9" height="6.3" fill="#f2c6bb"/>
<path d="M280.2 622.5 H287.1" stroke="#a82a45" stroke-width="1.2"/>
<text x="290.4" y="624.9" font-size="7.7" textLength="14.7" lengthAdjust="spacingAndGlyphs">TMS</text>
</g>
<rect x="0.5" y="0.5" width="519" height="633" fill="none" stroke="#555" stroke-width="1"/>
</svg></body></html>
